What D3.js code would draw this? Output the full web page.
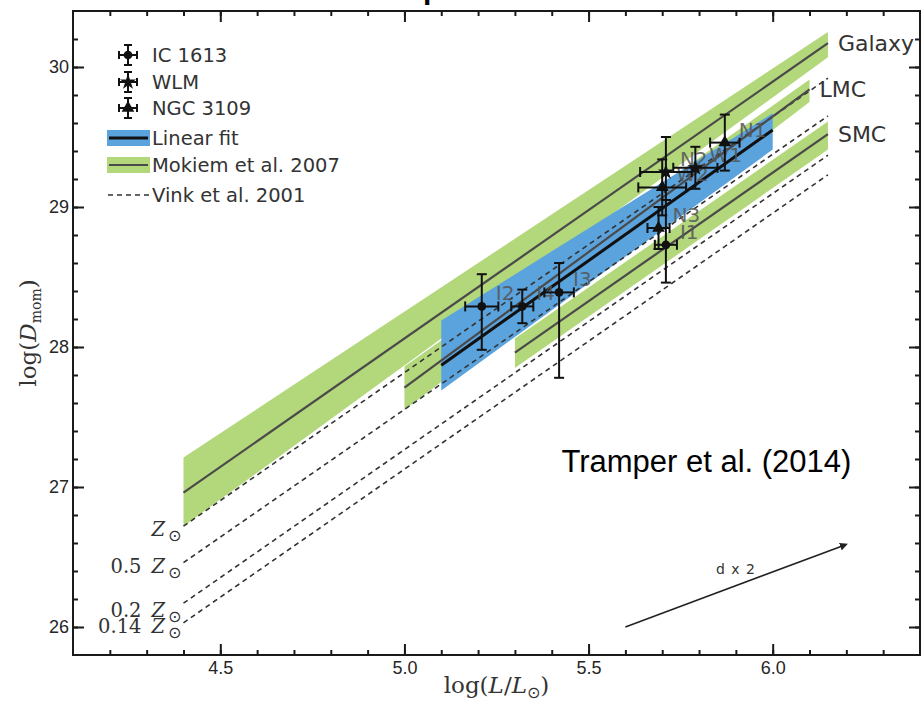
<!doctype html>
<meta charset=utf8>
<title>Wind momentum vs luminosity</title>
<style>
  body {
    margin: 0;
    background: white;
  }

  svg {
    display: block;
    font-family: "DejaVu Sans", sans-serif;
  }

  .axis path,
  .axis line {
    stroke: #1a1a1a;
  }

  .axis text {
    font-size: 18px;
    fill: #262626;
  }

  .serif {
    font-family: "DejaVu Serif", serif;
  }

  .sun {
    font-family: "DejaVu Sans", sans-serif;
    font-style: normal;
  }
</style>
<svg width=922 height=704></svg>
<script src=https://d3js.org/d3.v7.min.js></script>
<script>
  // Mokiem et al. 2007 (green bands): L range, centre line, band edges at both ends
  var mokiemNames = ['Galaxy', 'LMC', 'SMC'];
  var mokiemL = [[4.4, 6.15], [5.0, 6.1], [5.3, 6.15]];
  var mokiemMid = [[26.96, 30.17], [27.71, 29.84], [27.96, 29.52]];
  var mokiemTop = [[27.21, 30.25], [27.86, 29.91], [28.06, 29.61]];
  var mokiemBottom = [[26.72, 30.07], [27.55, 29.75], [27.85, 29.41]];

  // linear fit to the data (blue band)
  var fitL = [5.1, 6.0];
  var fitMid = [27.87, 29.55];
  var fitTop = [28.19, 29.67];
  var fitBottom = [27.69, 29.41];

  // Vink et al. 2001 predictions (dashed)
  var vinkL = [4.4, 6.15];
  var vinkNames = ['', '0.5', '0.2', '0.14'];
  var vinkStart = [26.72, 26.46, 26.17, 26.03];
  var vinkEnd = [29.92, 29.65, 29.37, 29.23];

  // observed stars
  var starGroup = ['IC 1613', 'IC 1613', 'IC 1613', 'IC 1613', 'NGC 3109', 'NGC 3109', 'WLM', 'WLM', 'NGC 3109'];
  var starLabel = ['I2', 'I4', 'I3', 'I1', 'N3', 'W2', 'N2', 'W1', 'N1'];
  var starL = [5.21, 5.32, 5.42, 5.71, 5.69, 5.70, 5.71, 5.79, 5.87];
  var starD = [28.29, 28.29, 28.39, 28.73, 28.85, 29.14, 29.25, 29.28, 29.46];
  var starLErr = [0.045, 0.03, 0.04, 0.03, 0.03, 0.065, 0.07, 0.06, 0.04];
  var starDUp = [0.23, 0.12, 0.21, 0.32, 0.15, 0.2, 0.25, 0.15, 0.2];
  var starDDown = [0.31, 0.12, 0.61, 0.27, 0.15, 0.2, 0.2, 0.15, 0.2];

  var legendLabels = ['IC 1613', 'WLM', 'NGC 3109', 'Linear fit', 'Mokiem et al. 2007', 'Vink et al. 2001'];

  // d x 2 arrow
  var arrowL = [5.6, 6.2];
  var arrowD = [26.0, 26.59];

  var green = '#b3d77b';
  var blue = '#5ba3dd';

  var svg = d3.select('svg');
  var margin = {top: 11, right: 2, bottom: 49, left: 73};
  var width = svg.attr('width') - margin.left - margin.right;
  var height = svg.attr('height') - margin.top - margin.bottom;

  var x = d3.scaleLinear().domain([4.1, 6.4]).range([0, width]);
  var y = d3.scaleLinear().domain([25.8, 30.4]).range([height, 0]);

  // piece of the cropped title above the frame
  svg.append('text')
    .attr('x', 423)
    .attr('y', -1)
    .style('font-family', 'Liberation Sans, Arial, sans-serif')
    .style('font-weight', 'bold')
    .style('font-size', '30px')
    .text('p');

  var g = svg.append('g').attr('transform', 'translate(' + margin.left + ',' + margin.top + ')');

  function band(l, top, bottom) {
    return [[x(l[0]), y(top[0])], [x(l[1]), y(top[1])], [x(l[1]), y(bottom[1])], [x(l[0]), y(bottom[0])]];
  }

  var poly = d3.line();

  // green bands
  mokiemNames.forEach(function(name, i) {
    g.append('path')
      .attr('d', poly(band(mokiemL[i], mokiemTop[i], mokiemBottom[i])) + 'Z')
      .attr('fill', green);
  });

  // blue band
  g.append('path')
    .attr('d', poly(band(fitL, fitTop, fitBottom)) + 'Z')
    .attr('fill', blue);

  // Vink dashed lines
  vinkNames.forEach(function(name, i) {
    g.append('line')
      .attr('x1', x(vinkL[0])).attr('y1', y(vinkStart[i]))
      .attr('x2', x(vinkL[1])).attr('y2', y(vinkEnd[i]))
      .attr('stroke', '#333')
      .attr('stroke-width', 1.6)
      .attr('stroke-dasharray', '5,4');

    var t = g.append('text')
      .attr('class', 'serif')
      .attr('x', x(vinkL[0]) - 2)
      .attr('y', y(vinkStart[i]) + (i === 2 ? 14 : 10))
      .attr('text-anchor', 'end')
      .style('font-size', '19.5px')
      .style('fill', '#333');
    t.append('tspan').text(name);
    t.append('tspan').attr('dx', name ? 10 : 0).style('font-style', 'italic').text('Z');
    t.append('tspan').attr('class', 'sun').attr('dx', 3).attr('dy', 5).style('font-size', '16px').text('\u2299');
  });

  // Mokiem lines + labels
  mokiemNames.forEach(function(name, i) {
    g.append('line')
      .attr('x1', x(mokiemL[i][0])).attr('y1', y(mokiemMid[i][0]))
      .attr('x2', x(mokiemL[i][1])).attr('y2', y(mokiemMid[i][1]))
      .attr('stroke', '#4a4a4a')
      .attr('stroke-width', 2.2);

    g.append('text')
      .attr('x', x(mokiemL[i][1]) + 10)
      .attr('y', y(mokiemMid[i][1]))
      .attr('dy', '0.35em')
      .style('font-size', '22px')
      .style('fill', '#333')
      .text(name);
  });

  // linear fit line
  g.append('line')
    .attr('x1', x(fitL[0])).attr('y1', y(fitMid[0]))
    .attr('x2', x(fitL[1])).attr('y2', y(fitMid[1]))
    .attr('stroke', '#111')
    .attr('stroke-width', 3);

  // stars with error bars
  var symbols = {
    'IC 1613': d3.symbol().type(d3.symbolCircle).size(60),
    'WLM': d3.symbol().type(d3.symbolStar).size(80),
    'NGC 3109': d3.symbol().type(d3.symbolTriangle).size(70)
  };

  function errorbar(sel, cx, cy, x0, x1, y0, y1, cap) {
    var e = sel.append('g').attr('stroke', '#111').attr('stroke-width', 2);
    e.append('line').attr('x1', x0).attr('x2', x1).attr('y1', cy).attr('y2', cy);
    e.append('line').attr('x1', cx).attr('x2', cx).attr('y1', y0).attr('y2', y1);
    e.append('line').attr('x1', x0).attr('x2', x0).attr('y1', cy - cap).attr('y2', cy + cap);
    e.append('line').attr('x1', x1).attr('x2', x1).attr('y1', cy - cap).attr('y2', cy + cap);
    e.append('line').attr('x1', cx - cap).attr('x2', cx + cap).attr('y1', y0).attr('y2', y0);
    e.append('line').attr('x1', cx - cap).attr('x2', cx + cap).attr('y1', y1).attr('y2', y1);
  }

  starLabel.forEach(function(label, i) {
    var cx = x(starL[i]);
    var cy = y(starD[i]);
    errorbar(g, cx, cy, x(starL[i] - starLErr[i]), x(starL[i] + starLErr[i]),
      y(starD[i] + starDUp[i]), y(starD[i] - starDDown[i]), 5);
    g.append('path')
      .attr('transform', 'translate(' + cx + ',' + cy + ')')
      .attr('d', symbols[starGroup[i]]())
      .attr('fill', '#111');
    g.append('text')
      .attr('x', cx + 14)
      .attr('y', cy - 6)
      .style('font-size', '20px')
      .style('fill', '#555')
      .style('opacity', 0.85)
      .text(label);
  });

  // d x 2 arrow
  svg.append('defs').append('marker')
    .attr('id', 'head')
    .attr('viewBox', '0 0 10 10')
    .attr('refX', 8).attr('refY', 5)
    .attr('markerWidth', 5).attr('markerHeight', 5)
    .attr('orient', 'auto')
    .append('path')
    .attr('d', 'M0,0L10,5L0,10Z')
    .attr('fill', '#222');

  g.append('line')
    .attr('x1', x(arrowL[0])).attr('y1', y(arrowD[0]))
    .attr('x2', x(arrowL[1])).attr('y2', y(arrowD[1]))
    .attr('stroke', '#222')
    .attr('stroke-width', 1.6)
    .attr('marker-end', 'url(#head)');

  g.append('text')
    .attr('x', (x(arrowL[0]) + x(arrowL[1])) / 2)
    .attr('y', (y(arrowD[0]) + y(arrowD[1])) / 2 - 12)
    .attr('text-anchor', 'middle')
    .style('font-size', '14px')
    .style('letter-spacing', '1px')
    .style('fill', '#333')
    .text('d x 2');

  g.append('text')
    .attr('x', x(5.82))
    .attr('y', y(27.11))
    .attr('text-anchor', 'middle')
    .style('font-family', 'Liberation Sans, Arial, sans-serif')
    .style('font-size', '31px')
    .style('fill', '#000')
    .text('Tramper et al. (2014)');

  // legend
  var legend = g.append('g').attr('transform', 'translate(33,44)');
  legendLabels.forEach(function(label, i) {
    var ly = [0, 27, 53, 83, 110, 140][i];
    var row = legend.append('g').attr('transform', 'translate(0,' + ly + ')');
    if (i < 3) {
      errorbar(row, 22, 0, 13, 31, -10, 10, 4);
      row.append('path')
        .attr('transform', 'translate(22,0)')
        .attr('d', symbols[label]())
        .attr('fill', '#111');
    } else if (i < 5) {
      row.append('rect')
        .attr('x', 1).attr('y', -8).attr('width', 43).attr('height', 16)
        .attr('fill', i === 3 ? blue : green);
      row.append('line')
        .attr('x1', 3).attr('x2', 42)
        .attr('stroke', i === 3 ? '#111' : '#4a4a4a')
        .attr('stroke-width', i === 3 ? 3 : 2);
    } else {
      row.append('line')
        .attr('x1', 2).attr('x2', 43)
        .attr('stroke', '#333')
        .attr('stroke-width', 1.6)
        .attr('stroke-dasharray', '5,4');
    }
    row.append('text')
      .attr('x', 46)
      .attr('dy', '0.35em')
      .style('font-size', '19.5px')
      .style('fill', '#333')
      .text(label);
  });

  // axes, ticks on all sides pointing inwards
  var xMajor = [4.5, 5.0, 5.5, 6.0];
  var xMinor = d3.range(4.2, 6.4, 0.1).map(function(v) { return +v.toFixed(1); });
  var yMajor = [26, 27, 28, 29, 30];
  var yMinor = d3.range(26, 30.4, 0.2).map(function(v) { return +v.toFixed(1); });

  function ticks(axis, vals, size, pad) {
    return axis.tickValues(vals).tickSize(-size).tickPadding(pad)
      .tickFormat(pad ? d3.format('.1f') : '');
  }

  [['bottom', height], ['top', 0]].forEach(function(side) {
    var mk = side[0] === 'bottom' ? d3.axisBottom : d3.axisTop;
    g.append('g').attr('class', 'axis')
      .attr('transform', 'translate(0,' + side[1] + ')')
      .call(ticks(mk(x), xMinor, 5, 0)).call(function(s) { s.select('.domain').remove(); });
    g.append('g').attr('class', 'axis')
      .attr('transform', 'translate(0,' + side[1] + ')')
      .call(ticks(mk(x), xMajor, 11, side[0] === 'bottom' ? 6 : 0))
      .call(function(s) { s.select('.domain').remove(); });
  });

  [['left', 0], ['right', width]].forEach(function(side) {
    var mk = side[0] === 'left' ? d3.axisLeft : d3.axisRight;
    g.append('g').attr('class', 'axis')
      .attr('transform', 'translate(' + side[1] + ',0)')
      .call(ticks(mk(y), yMinor, 5, 0)).call(function(s) { s.select('.domain').remove(); });
    var a = g.append('g').attr('class', 'axis')
      .attr('transform', 'translate(' + side[1] + ',0)')
      .call(ticks(mk(y), yMajor, 11, side[0] === 'left' ? 4 : 0))
      .call(function(s) { s.select('.domain').remove(); });
    if (side[0] === 'left') a.selectAll('text').text(function(d) { return d; });
  });
  g.selectAll('.axis line').attr('stroke-width', 2);

  g.append('rect')
    .attr('width', width).attr('height', height)
    .attr('fill', 'none')
    .attr('stroke', '#1a1a1a')
    .attr('stroke-width', 2);

  // axis titles
  var xt = svg.append('text')
    .attr('class', 'serif')
    .attr('x', margin.left + width / 2)
    .attr('y', 693)
    .attr('text-anchor', 'middle')
    .style('font-size', '23px')
    .style('fill', '#333');
  xt.append('tspan').text('log(');
  xt.append('tspan').style('font-style', 'italic').text('L');
  xt.append('tspan').text('/');
  xt.append('tspan').style('font-style', 'italic').text('L');
  xt.append('tspan').attr('class', 'sun').attr('dy', 5).style('font-size', '16px').text('\u2299');
  xt.append('tspan').attr('dy', -5).text(')');

  var yt = svg.append('text')
    .attr('class', 'serif')
    .attr('transform', 'translate(36,' + (margin.top + height / 2) + ') rotate(-90)')
    .attr('text-anchor', 'middle')
    .style('font-size', '23px')
    .style('fill', '#333');
  yt.append('tspan').text('log(');
  yt.append('tspan').style('font-style', 'italic').text('D');
  yt.append('tspan').attr('dy', 5).style('font-size', '14px').text('mom');
  yt.append('tspan').attr('dy', -5).text(')');
</script>
